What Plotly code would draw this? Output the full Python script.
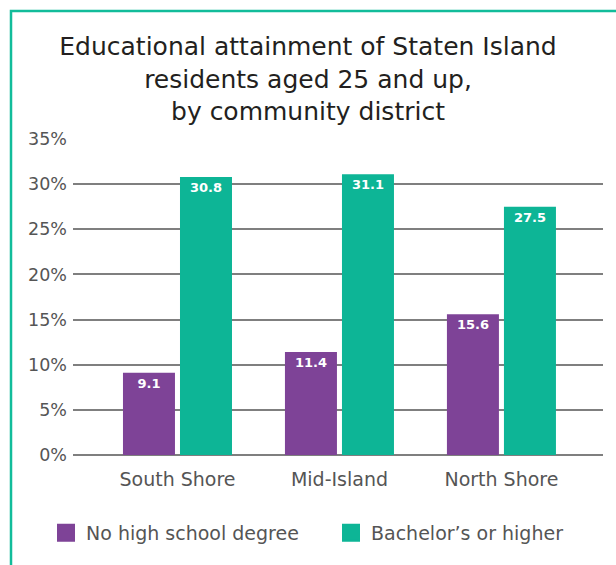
import plotly.graph_objects as go

# Share of residents aged 25+ (percent), by Staten Island community district
districts = ["South Shore", "Mid-Island", "North Shore"]
no_high_school = [9.1, 11.4, 15.6]
bachelors_plus = [30.8, 31.1, 27.5]

series_names = ["No high school degree", "Bachelor’s or higher"]
series_colors = ["#7E4397", "#0DB596"]

y_ticks = [0, 5, 10, 15, 20, 25, 30, 35]
y_tick_labels = [f"{v}%" for v in y_ticks]

title_text = ("Educational attainment of Staten Island<br>"
              "residents aged 25 and up,<br>by community district")

FONT = "DejaVu Sans"
W, H = 616, 565
M_L, M_R, M_T, M_B = 73, 13, 139, 110

fig = go.Figure()

for name, vals, col in zip(series_names, [no_high_school, bachelors_plus], series_colors):
    fig.add_trace(go.Bar(
        x=districts, y=vals, name=name, marker=dict(color=col, line=dict(width=0)),
        text=[f"{v:.1f}" for v in vals], textposition="inside",
        insidetextanchor="end", textangle=0,
        textfont=dict(family=FONT, size=13, color="white", weight="bold"),
        cliponaxis=False, showlegend=False,
    ))

# Legend entries drawn as larger squares
for name, col in zip(series_names, series_colors):
    fig.add_trace(go.Scatter(
        x=[None], y=[None], mode="markers", name=name,
        marker=dict(symbol="square", size=16, color=col, line=dict(color=col, width=2)),
    ))

# Frame line along the left and top edges
pw, ph = W - M_L - M_R, H - M_T - M_B
fig.add_shape(
    type="path", xref="paper", yref="paper",
    path=(f"M {(11 - M_L) / pw} {(H - M_B - 600) / ph} "
          f"L {(11 - M_L) / pw} {(H - M_B - 11) / ph} "
          f"L {(650 - M_L) / pw} {(H - M_B - 11) / ph}"),
    line=dict(color="#12BC9A", width=2.5),
)

fig.update_layout(
    width=W, height=H,
    margin=dict(l=M_L, r=M_R, t=M_T, b=M_B, pad=0),
    paper_bgcolor="white", plot_bgcolor="white",
    barmode="group", bargap=0.296, bargroupgap=0.088,
    uniformtext=dict(mode=False),
    title=dict(
        text=title_text, x=0.5, xanchor="center", xref="container",
        y=1 - 55 / H, yanchor="top", yref="container",
        font=dict(family=FONT, size=25, color="#231F20"),
    ),
    xaxis=dict(
        range=[-0.645, 2.627], showgrid=False, zeroline=False, showline=False,
        ticks="", tickfont=dict(family=FONT, size=19, color="#555555"),
        ticklabelstandoff=11, fixedrange=True,
    ),
    yaxis=dict(
        range=[0, 35], tickvals=y_ticks, ticktext=y_tick_labels,
        showgrid=True, gridcolor="#7F7F7F", gridwidth=1.5,
        zeroline=True, zerolinecolor="#7F7F7F", zerolinewidth=1.5,
        showline=False, ticks="", ticklabelstandoff=5,
        tickfont=dict(family=FONT, size=17.5, color="#555555"), fixedrange=True,
    ),
    legend=dict(
        orientation="h", x=(63 - M_L) / pw, xanchor="left", xref="paper",
        y=(H - M_B - 514) / ph, yanchor="top", yref="paper",
        font=dict(family=FONT, size=19, color="#555555"),
        itemwidth=30, tracegroupgap=0, bgcolor="rgba(0,0,0,0)",
        entrywidth=240, entrywidthmode="pixels",
    ),
)

fig.write_html("out.html")
